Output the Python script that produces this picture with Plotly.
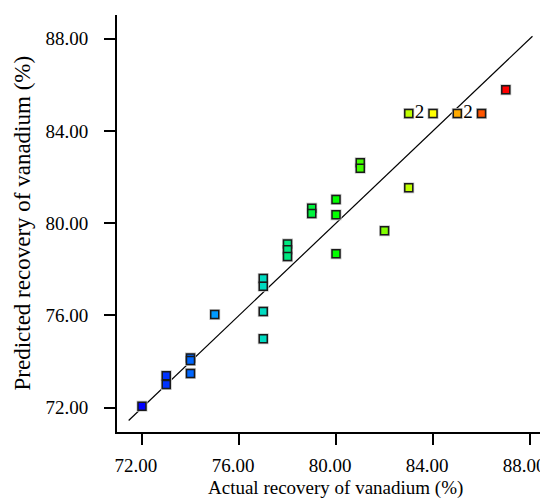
import plotly.graph_objects as go

# Actual vs predicted recovery of vanadium (%)
actual = [72, 73, 73, 74, 74, 74, 75, 77, 77, 77, 77, 78, 78, 78, 79, 79,
          80, 80, 80, 81, 81, 82, 83, 83, 84, 85, 86, 87]
predicted = [72.07, 73.39, 73.01, 74.16, 74.05, 73.49, 76.04, 77.60, 77.27, 76.17, 74.99,
             79.10, 78.85, 78.55, 80.65, 80.42, 81.03, 80.36, 78.67, 82.62, 82.38,
             79.67, 81.53, 84.75, 84.75, 84.75, 84.75, 85.78]
point_labels = ["", "", "", "", "", "", "", "", "", "", "", "", "", "", "", "",
                "", "", "", "", "", "", "", "2", "", "2", "", ""]

ref_line = [71.45, 88.1]

tick_vals = [72, 76, 80, 84, 88]
tick_text = ["72.00", "76.00", "80.00", "84.00", "88.00"]

x_title = "Actual recovery of vanadium (%)"
y_title = "Predicted recovery of vanadium (%)"

colorscale = [[0.0, "#0000ff"], [0.27, "#00d0ff"], [0.53, "#00ff00"],
              [0.8, "#ffff00"], [1.0, "#ff0000"]]

font_family = "Liberation Serif, Times New Roman, serif"

fig = go.Figure()

fig.add_trace(go.Scatter(
    x=ref_line, y=ref_line, mode="lines",
    line=dict(color="black", width=1.2), hoverinfo="skip", showlegend=False))

# gray halo behind markers
fig.add_trace(go.Scatter(
    x=actual, y=predicted, mode="markers",
    marker=dict(symbol="square", size=11, color="#c8c8c8", line=dict(width=0)),
    hoverinfo="skip", showlegend=False))

fig.add_trace(go.Scatter(
    x=actual, y=predicted, mode="markers+text",
    text=point_labels, textposition="middle right",
    textfont=dict(family=font_family, size=19, color="black"),
    marker=dict(symbol="square", size=8, color=actual, colorscale=colorscale,
                cmin=72, cmax=87, line=dict(color="#1a1a1a", width=1.5)),
    showlegend=False))

axis_common = dict(
    showgrid=False, zeroline=False, showline=True, linecolor="black", linewidth=2,
    ticks="outside", ticklen=11, tickwidth=2, tickcolor="black",
    tickvals=tick_vals, ticktext=tick_text, automargin=False,
    ticklabeloverflow="allow",
    tickfont=dict(family=font_family, size=19, color="black"),
    mirror=False)

# page body has an 8px default margin; compensate so the plot sits where the reference does
fig.update_layout(
    width=540, height=492,
    margin=dict(l=109, r=0, t=7, b=68),
    paper_bgcolor="white", plot_bgcolor="white",
    xaxis=dict(range=[70.97, 88.74], ticklabelstandoff=4, ticklabelshift=-6,
               **axis_common),
    yaxis=dict(range=[70.95, 89.02], ticklabelstandoff=12, **axis_common),
    annotations=[
        dict(text=x_title, xref="paper", yref="paper", x=0.508, y=-0.134,
             xanchor="center", yanchor="middle", showarrow=False,
             font=dict(family=font_family, size=19, color="black")),
        dict(text=y_title, xref="paper", yref="paper", x=-0.2204, y=0.5,
             xanchor="center", yanchor="middle", showarrow=False, textangle=-90,
             font=dict(family=font_family, size=23, color="black")),
    ],
)

fig.write_html("out.html")
